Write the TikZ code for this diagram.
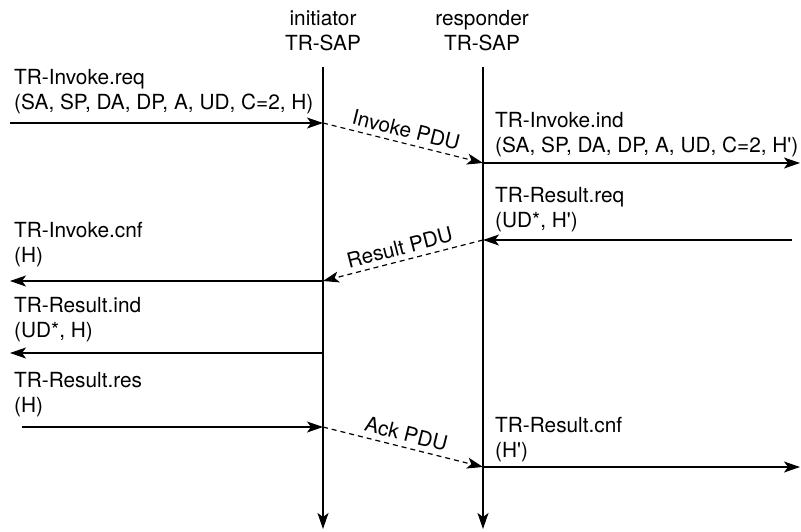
\documentclass[tikz,border=0pt]{standalone}
\usepackage{fontspec}
\setmainfont{TeX Gyre Heros}
\usetikzlibrary{arrows.meta}
\newcommand{\pr}{\textquotesingle}
\begin{document}
\begin{tikzpicture}[x=1pt,y=-1pt,
  every node/.style={font=\fontsize{20.8}{24.5}\selectfont},
  lbl/.style={anchor=base west,align=left,inner sep=0pt},
  hdr/.style={anchor=base,inner sep=0pt},
  msg/.style={line width=1.2pt,-{Stealth[length=16pt,width=11pt,inset=4pt]}},
  pdu/.style={msg,dash pattern=on 5pt off 4pt},
  life/.style={msg},
  pdulbl/.style={midway,above,sloped,inner sep=5pt}]
\useasboundingbox (0,0) rectangle (801,531);
% headers
\node[hdr] (hi1) at (323,25) {initiator};
\node[hdr] (hi2) at (323,50) {TR-SAP};
\node[hdr] (hr1) at (482,25) {responder};
\node[hdr] (hr2) at (482,50) {TR-SAP};
% lifelines
\coordinate (itop) at (323,67);
\coordinate (ibot) at (323,529);
\coordinate (rtop) at (483,67);
\coordinate (rbot) at (483,529);
\draw[life] (itop) -- (ibot);
\draw[life] (rtop) -- (rbot);
% points
\coordinate (i1) at (323,123);
\coordinate (r1) at (483,163);
\coordinate (r2) at (483,240);
\coordinate (i2) at (323,281);
\coordinate (i3) at (323,353);
\coordinate (i4) at (323,427);
\coordinate (r4) at (483,467);
\coordinate (L1) at (10,123);
\coordinate (R1) at (800,163);
\coordinate (R2) at (792,240);
\coordinate (L2) at (10,281);
\coordinate (L3) at (10,353);
\coordinate (L4) at (22,427);
\coordinate (R4) at (800,467);
% labels (anchor = baseline of last line)
\node[lbl] (a1) at (14,109) {TR-Invoke.req\\(SA, SP, DA, DP, A, UD, C=2, H)};
\node[lbl] (a2) at (495,152) {TR-Invoke.ind\\(SA, SP, DA, DP, A, UD, C=2, H\pr)};
\node[lbl] (a3) at (495,227) {TR-Result.req\\(UD*, H\pr)};
\node[lbl] (a4) at (14,262) {TR-Invoke.cnf\\(H)};
\node[lbl] (a5) at (14,337) {TR-Result.ind\\(UD*, H)};
\node[lbl] (a6) at (14,412) {TR-Result.res\\(H)};
\node[lbl] (a7) at (495,457) {TR-Result.cnf\\(H\pr)};
% messages
\draw[msg] (L1) -- (i1);
\draw[pdu] (i1) -- node[pdulbl] (p1) {Invoke PDU} (r1);
\draw[msg] (r1) -- (R1);
\draw[msg] (R2) -- (r2);
\draw[pdu] (r2) -- node[pdulbl] (p2) {Result PDU} (i2);
\draw[msg] (i2) -- (L2);
\draw[msg] (i3) -- (L3);
\draw[msg] (L4) -- (i4);
\draw[pdu] (i4) -- node[pdulbl] (p3) {Ack PDU} (r4);
\draw[msg] (r4) -- (R4);
\end{tikzpicture}
\end{document}
